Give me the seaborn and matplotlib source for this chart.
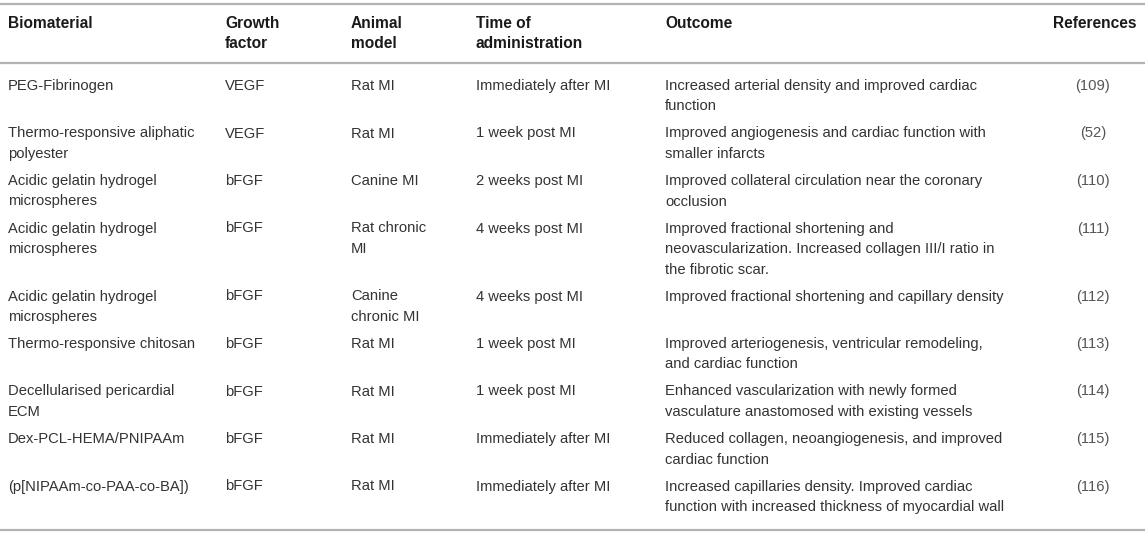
import matplotlib
matplotlib.use("Agg")
import matplotlib.pyplot as plt
import seaborn as sns

# table content, one list per column
biomaterial = [
    "PEG-Fibrinogen",
    "Thermo-responsive aliphatic\npolyester",
    "Acidic gelatin hydrogel\nmicrospheres",
    "Acidic gelatin hydrogel\nmicrospheres",
    "Acidic gelatin hydrogel\nmicrospheres",
    "Thermo-responsive chitosan",
    "Decellularised pericardial\nECM",
    "Dex-PCL-HEMA/PNIPAAm",
    "(p[NIPAAm-co-PAA-co-BA])",
]
growth_factor = ["VEGF", "VEGF", "bFGF", "bFGF", "bFGF", "bFGF", "bFGF", "bFGF", "bFGF"]
animal_model = ["Rat MI", "Rat MI", "Canine MI", "Rat chronic\nMI", "Canine\nchronic MI",
                "Rat MI", "Rat MI", "Rat MI", "Rat MI"]
time_admin = ["Immediately after MI", "1 week post MI", "2 weeks post MI", "4 weeks post MI",
              "4 weeks post MI", "1 week post MI", "1 week post MI", "Immediately after MI",
              "Immediately after MI"]
outcome = [
    "Increased arterial density and improved cardiac\nfunction",
    "Improved angiogenesis and cardiac function with\nsmaller infarcts",
    "Improved collateral circulation near the coronary\nocclusion",
    "Improved fractional shortening and\nneovascularization. Increased collagen III/I ratio in\nthe fibrotic scar.",
    "Improved fractional shortening and capillary density",
    "Improved arteriogenesis, ventricular remodeling,\nand cardiac function",
    "Enhanced vascularization with newly formed\nvasculature anastomosed with existing vessels",
    "Reduced collagen, neoangiogenesis, and improved\ncardiac function",
    "Increased capillaries density. Improved cardiac\nfunction with increased thickness of myocardial wall",
]
references = ["(109)", "(52)", "(110)", "(111)", "(112)", "(113)", "(114)", "(115)", "(116)"]
headers = ["Biomaterial", "Growth\nfactor", "Animal\nmodel", "Time of\nadministration", "Outcome", "References"]

sns.set_theme(style="white")
plt.rcParams["font.family"] = ["Liberation Sans", "DejaVu Sans"]

W, H = 1145, 535
fig = plt.figure(figsize=(W / 100, H / 100), dpi=100)
ax = fig.add_axes([0, 0, 1, 1])
ax.set_xlim(0, W)
ax.set_ylim(H, 0)
ax.axis("off")

col_x = [8, 225, 351, 476, 665]
ref_x = 1093
step = 20.5
body_color = "#333333"


def put(x, y, txt, ha="left", fs=10.6, **kw):
    for i, line in enumerate(txt.split("\n")):
        ax.text(x, y + i * step, line, ha=ha, va="center", fontsize=fs, **kw)


# header
for x, h in zip(col_x, headers[:5]):
    put(x, 23, h, fs=11.2, weight="bold", color="#1a1a1a")
put(1137, 23, headers[5], ha="right", fs=11.2, weight="bold", color="#1a1a1a")

# rules
for y in [4, 63, 530]:
    ax.axhline(y, color="#b3b3b3", linewidth=1.6)

# body rows
y = 86
columns = [biomaterial, growth_factor, animal_model, time_admin, outcome]
for r in range(len(biomaterial)):
    cells = [c[r] for c in columns]
    for x, txt in zip(col_x, cells):
        put(x, y, txt, color=body_color)
    put(ref_x, y, references[r], ha="center", color="#555555")
    n = max(t.count("\n") + 1 for t in cells)
    y += step * n + 6.5

fig.savefig("out.png", dpi=100)
